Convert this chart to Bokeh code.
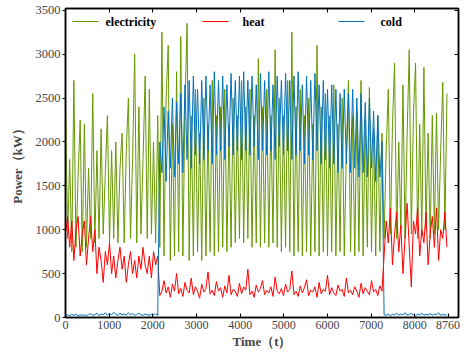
from bokeh.plotting import figure
from bokeh.models import Range1d, FixedTicker, LinearAxis, Label
from bokeh.embed import file_html
from bokeh.resources import INLINE

STEP = 48  # hours between samples

electricity = [
    2500, 900, 1800, 750, 2700, 800, 1600, 2250, 750, 2200,
    800, 1700, 900, 2550, 850, 1900, 900, 2150, 950, 1650,
    2300, 850, 1900, 900, 2000, 850, 1700, 2100, 850, 1900,
    2500, 900, 1800, 3000, 850, 2400, 950, 1800, 2750, 900,
    2600, 950, 2000, 850, 2300, 800, 3250, 700, 2500, 3100,
    650, 2200, 700, 2800, 750, 3200, 700, 2400, 3350, 650,
    2300, 700, 2600, 750, 2100, 650, 2500, 700, 2200, 750,
    2700, 700, 2300, 750, 2400, 800, 2600, 750, 2200, 800,
    2500, 850, 2300, 900, 2700, 850, 2400, 900, 2600, 800,
    2300, 850, 2950, 800, 2400, 850, 2600, 800, 2300, 850,
    3050, 800, 2500, 750, 2300, 800, 2700, 750, 3250, 700,
    2400, 750, 2600, 700, 2300, 750, 2500, 700, 2200, 750,
    3100, 700, 2400, 750, 2550, 700, 2300, 750, 2650, 700,
    2200, 750, 2500, 700, 1900, 2700, 750, 2300, 700, 2350,
    750, 2700, 700, 2250, 800, 2620, 750, 2150, 700, 2300,
    750, 2100, 900, 1900, 2600, 950, 2200, 2900, 900, 2000,
    1000, 2650, 900, 2100, 3050, 950, 2300, 2900, 900, 2200,
    950, 2850, 1000, 2100, 900, 2300, 950, 2330, 1000, 1900,
    2680, 1000, 2550,
]

heat = [
    950, 1150, 800, 1100, 650, 1000, 1150, 700, 950, 1100,
    600, 900, 1150, 750, 1000,
    500, 800, 650, 400, 750, 600, 850, 500, 700, 450,
    650, 800, 550, 700, 400, 600, 750, 500, 650, 450,
    700, 550, 800, 600, 500, 700, 450, 750, 600, 700,
    250, 300, 420, 280, 350, 230, 380, 300, 500, 270,
    330, 240, 400, 310, 280, 450, 260, 350, 300, 220,
    380, 290, 330, 520, 270, 310, 250, 410, 300, 340,
    230, 360, 280, 480, 260, 320, 300, 240, 390, 270,
    350, 310, 550, 260, 300, 230, 370, 290, 330, 420,
    260, 310, 280, 350, 240, 460, 300, 270, 330, 250,
    380, 290, 320, 530, 260, 300, 240, 360, 280, 340,
    430, 250, 310, 290, 350, 230, 400, 270, 320, 300,
    480, 260, 340, 280, 250, 370, 300, 320, 240, 450,
    280, 310, 260, 350, 300, 230, 390, 270, 340, 300,
    260, 420, 290, 320, 250, 360, 300,
    700, 1100, 850, 1250, 600, 950, 1200, 750, 1050, 500,
    900, 1300, 800, 350, 1100, 950, 1250, 700, 1000, 850,
    1200, 600, 950, 1150, 800, 1250, 650, 1000, 900, 1200,
    800,
]

cold = [
    25, 30, 20, 35, 25, 40, 20, 30, 25, 30,
    20, 35, 45, 25, 30, 50, 20, 40, 30, 55,
    25, 45, 30, 60, 35, 25, 50, 30, 40, 25,
    55, 30, 45, 25, 35, 50, 30, 25, 40, 30,
    25, 35, 30, 40, 25,
    2000, 1650, 2400, 1550, 2350, 1700, 2500, 1600, 2450, 1750,
    2550, 1650, 2650, 1800, 2700, 1700, 2750, 1850, 2600, 1750,
    2700, 1800, 2750, 1900, 2650, 1750, 2800, 1850, 2700, 1900,
    2750, 1800, 2650, 1950, 2780, 1850, 2700, 1900, 2750, 1800,
    2800, 1900, 2700, 1850, 2750, 1950, 2650, 1800, 2780, 1900,
    2700, 1850, 2800, 1900, 2650, 1800, 2750, 1950, 2700, 1850,
    2780, 1900, 2700, 1800, 2750, 1850, 2800, 1900, 2650, 1750,
    2750, 1850, 2700, 1800, 2780, 1900, 2650, 1750, 2700, 1800,
    2600, 1700, 2650, 1750, 2600, 1650, 2550, 1700, 2600, 1750,
    2550, 1650, 2600, 1700, 2500, 1600, 2550, 1650, 2450, 1600,
    2500, 1700, 2350, 1550, 2300, 1600, 2000,
    30, 25, 40, 20, 35, 30, 50, 25, 40, 30,
    55, 25, 35, 45, 30, 20, 40, 30, 50, 25,
    35, 30, 45, 25, 40, 30, 55, 25, 35, 30,
    25,
]

series_names = ["electricity", "heat", "cold"]
x_ticks = [0, 1000, 2000, 3000, 4000, 5000, 6000, 7000, 8000, 8760]
y_ticks = [0, 500, 1000, 1500, 2000, 2500, 3000, 3500]

GREEN = "#669900"
RED = "#FF0000"
BLUE = "#0072BD"
FONT = "Liberation Serif"

W, H = 471, 356
BL, BT, BR, BB = 65, 8, 13, 39
X_MAX, Y_MAX = 9000, 3520
FRAME_W = W - BL - BR
FRAME_H = H - BT - BB

def hours_for(series):
    return [i * STEP for i in range(len(series))]

p = figure(width=W, height=H, output_backend="svg", toolbar_location=None,
           x_range=Range1d(0, X_MAX), y_range=Range1d(0, Y_MAX),
           min_border_left=BL, min_border_top=BT, min_border_right=BR,
           min_border_bottom=BB)
p.grid.visible = False
p.outline_line_color = "black"
p.outline_line_width = 1.5
p.background_fill_color = "white"

p.line(hours_for(electricity), electricity, line_color=GREEN, line_width=1)
p.line(hours_for(heat), heat, line_color=RED, line_width=1)
p.line(hours_for(cold), cold, line_color=BLUE, line_width=1)

xa = p.xaxis[0]
xa.ticker = FixedTicker(ticks=x_ticks)
xa.minor_tick_line_color = None
xa.major_tick_in = 4
xa.major_tick_out = 0
xa.axis_line_width = 1.5
xa.major_label_text_font = FONT
xa.major_label_text_font_size = "12px"
xa.major_label_standoff = 3
xa.axis_label = "Time（t）"
xa.axis_label_text_font = FONT
xa.axis_label_text_font_style = "bold"
xa.axis_label_text_font_size = "13px"
xa.axis_label_standoff = 2

ya = p.yaxis[0]
ya.ticker = FixedTicker(ticks=y_ticks)
ya.minor_tick_line_color = None
ya.major_tick_in = 0
ya.major_tick_out = 3
ya.axis_line_width = 1.5
ya.major_label_text_font = FONT
ya.major_label_text_font_size = "12.5px"
ya.major_label_standoff = 2
ya.axis_label = "Power（kW）"
ya.axis_label_text_font = FONT
ya.axis_label_text_font_style = "bold"
ya.axis_label_text_font_size = "13px"
ya.axis_label_standoff = 8

top = LinearAxis(ticker=FixedTicker(ticks=x_ticks[:-1]), major_label_text_font_size="1px",
                 major_label_text_color=None,
                 major_tick_in=4, major_tick_out=0, minor_tick_line_color=None,
                 major_label_standoff=0, axis_line_width=1.5)
p.add_layout(top, "above")
right = LinearAxis(ticker=FixedTicker(ticks=y_ticks), major_label_text_font_size="1px",
                   major_label_text_color=None,
                   major_tick_in=4, major_tick_out=0, minor_tick_line_color=None,
                   major_label_standoff=0, axis_line_width=1.5)
p.add_layout(right, "right")

# legend keys: sample line + label, placed in pixels from the frame's bottom-left
LEG_Y = 296
legend_layout = [(7, 40, GREEN), (137, 177, RED), (273, 315, BLUE)]
to_x = X_MAX / FRAME_W
to_y = Y_MAX / FRAME_H
for name, (gx, tx, col) in zip(series_names, legend_layout):
    p.line([gx * to_x, (gx + 26) * to_x], [LEG_Y * to_y, LEG_Y * to_y],
           line_color=col, line_width=1.2)
    p.add_layout(Label(x=tx, y=LEG_Y, x_units="screen", y_units="screen", text=name,
                       text_font=FONT, text_font_style="bold", text_font_size="12px",
                       text_baseline="middle", text_align="left", text_color="black"))

open("out.html", "w").write(file_html(p, INLINE))
